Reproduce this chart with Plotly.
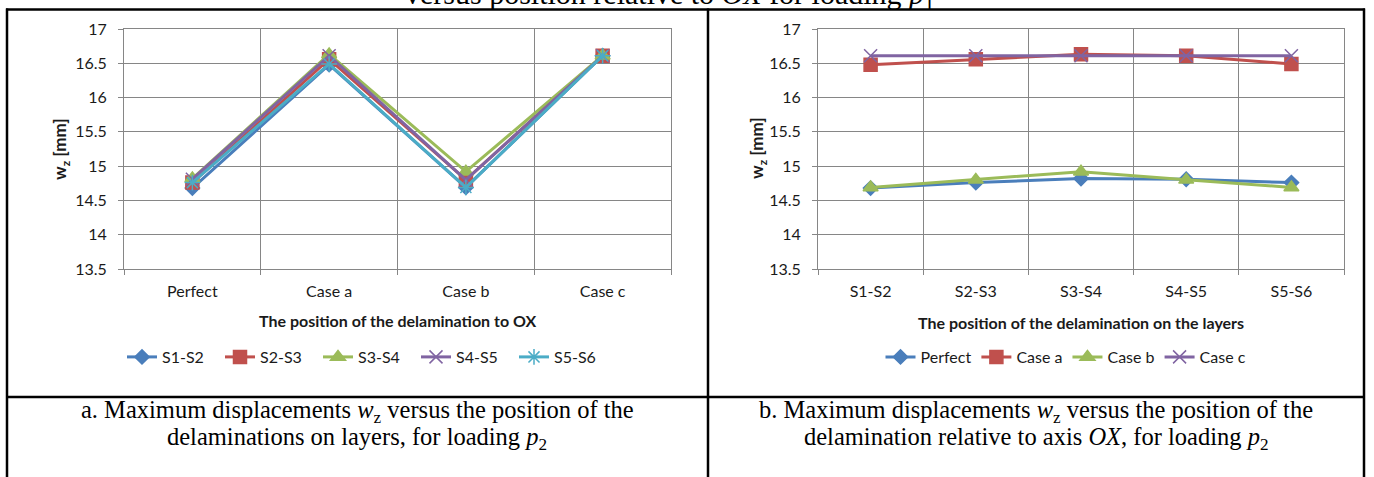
import plotly.graph_objects as go

# ---------------- data ----------------
cases = ["Perfect", "Case a", "Case b", "Case c"]
layers = ["S1-S2", "S2-S3", "S3-S4", "S4-S5", "S5-S6"]

# w_z [mm] for each case, across delamination layers
perfect = [14.68, 14.76, 14.82, 14.81, 14.76]
case_a = [16.48, 16.56, 16.63, 16.61, 16.49]
case_b = [14.69, 14.80, 14.92, 14.80, 14.69]
case_c = [16.61, 16.61, 16.61, 16.61, 16.61]

case_values = [perfect, case_a, case_b, case_c]

y_ticks = [13.5, 14, 14.5, 15, 15.5, 16, 16.5, 17]

# ---------------- styling ----------------
W, H = 1374, 477
def fx(px):
    return px / W
def fy(py):
    return 1 - py / H

colors = ["#4A7EBB", "#C0504D", "#9BBB59", "#8064A2", "#4BACC6"]
symbols = ["diamond", "square", "triangle-up", "x-thin-open", "asterisk-open"]
msizes = [11, 13, 13, 13, 13]
FONT = "Lato"
SERIF = "Liberation Serif"
GRID = "#868686"
TXT = "#1a1a1a"

fig = go.Figure()

# left chart: series = layers, x = cases
for i, lay in enumerate(layers):
    vals = [cv[i] for cv in case_values]
    fig.add_trace(go.Scatter(
        x=cases, y=vals, name=lay, mode="lines+markers",
        line=dict(color=colors[i], width=3),
        marker=dict(symbol=symbols[i], size=msizes[i], color=colors[i],
                    line=dict(color=colors[i], width=1.5)),
        xaxis="x", yaxis="y", legend="legend",
    ))

# right chart: series = cases, x = layers
for j, cname in enumerate(cases):
    fig.add_trace(go.Scatter(
        x=layers, y=case_values[j], name=cname, mode="lines+markers",
        line=dict(color=colors[j], width=3),
        marker=dict(symbol=symbols[j], size=msizes[j], color=colors[j],
                    line=dict(color=colors[j], width=1.5)),
        xaxis="x2", yaxis="y2", legend="legend2",
    ))

xcommon = dict(
    type="category", tickson="boundaries", showgrid=True, gridcolor=GRID, gridwidth=1,
    showline=True, linecolor=GRID, linewidth=1, mirror=True,
    ticks="outside", ticklen=5, tickcolor=GRID,
    tickfont=dict(family=FONT, size=16, color=TXT),
    ticklabelstandoff=8, zeroline=False, automargin=False,
)
ycommon = dict(
    range=[13.5, 17], tickmode="array", tickvals=y_ticks,
    ticktext=[("%g" % v) for v in y_ticks],
    showgrid=True, gridcolor=GRID, gridwidth=1,
    showline=True, linecolor=GRID, linewidth=1, mirror=True,
    ticks="outside", ticklen=5, tickcolor=GRID,
    tickfont=dict(family=FONT, size=16, color=TXT),
    ticklabelstandoff=8, zeroline=False, automargin=False,
    domain=[fy(269), fy(29)],
)

fig.update_layout(
    width=W, height=H,
    margin=dict(l=0, r=0, t=0, b=0, pad=0, autoexpand=False),
    paper_bgcolor="white", plot_bgcolor="white",
    font=dict(family=FONT, size=16, color=TXT),
    xaxis=dict(xcommon, domain=[fx(124), fx(671)], anchor="y", range=[-0.5, 3.5]),
    yaxis=dict(ycommon, anchor="x"),
    xaxis2=dict(xcommon, domain=[fx(818), fx(1344)], anchor="y2", range=[-0.5, 4.5]),
    yaxis2=dict(ycommon, anchor="x2"),
    legend=dict(orientation="h", x=fx(367), xanchor="center", y=fy(357), yanchor="middle",
                font=dict(family=FONT, size=16, color=TXT),
                entrywidth=53, entrywidthmode="pixels", bgcolor="rgba(0,0,0,0)"),
    legend2=dict(orientation="h", x=fx(1066), xanchor="center", y=fy(357), yanchor="middle",
                 font=dict(family=FONT, size=16, color=TXT), bgcolor="rgba(0,0,0,0)"),
    showlegend=True,
)

ann = []
# axis titles
ann.append(dict(text="<b>w<sub>z</sub> [mm]</b>", x=fx(61), y=fy(149), textangle=-90,
                font=dict(family=FONT, size=17, color=TXT)))
ann.append(dict(text="<b>w<sub>z</sub> [mm]</b>", x=fx(758), y=fy(149), textangle=-90,
                font=dict(family=FONT, size=17, color=TXT)))
ann.append(dict(text="<b>The position of the delamination to OX</b>", x=fx(397), y=fy(320),
                font=dict(family=FONT, size=16, color=TXT)))
ann.append(dict(text="<b>The position of the delamination on the layers</b>", x=fx(1081), y=fy(322),
                font=dict(family=FONT, size=16, color=TXT)))
# captions
cap = dict(family=SERIF, size=24.5, color="black")
ann.append(dict(text="a. Maximum displacements <i>w</i><sub>z</sub> versus the position of the",
                x=fx(357), y=fy(429), yanchor="bottom", font=cap))
ann.append(dict(text="delaminations on layers, for loading <i>p</i><sub>2</sub>",
                x=fx(357), y=fy(456), yanchor="bottom", font=cap))
ann.append(dict(text="b. Maximum displacements <i>w</i><sub>z</sub> versus the position of the",
                x=fx(1036), y=fy(429), yanchor="bottom", font=cap))
ann.append(dict(text="delamination relative to axis <i>OX</i>, for loading <i>p</i><sub>2</sub>",
                x=fx(1036), y=fy(456), yanchor="bottom", font=cap))
# cut-off text from the row above
ann.append(dict(text="versus position relative to <i>OX</i> for loading <i>p</i><sub>1</sub>",
                x=fx(403), xanchor="left", y=fy(17), yanchor="bottom",
                font=dict(family=SERIF, size=30, color="black")))

for a in ann:
    a.setdefault("xref", "paper")
    a.setdefault("yref", "paper")
    a.setdefault("showarrow", False)
    a.setdefault("xanchor", "center")
    a.setdefault("yanchor", "middle")
fig.update_layout(annotations=ann)

# table frame lines
def hline(y, x0, x1, w=2.5):
    return dict(type="line", xref="paper", yref="paper", x0=fx(x0), x1=fx(x1), y0=fy(y), y1=fy(y),
                line=dict(color="black", width=w))
def vline(x, y0, y1, w=2.5):
    return dict(type="line", xref="paper", yref="paper", x0=fx(x), x1=fx(x), y0=fy(y0), y1=fy(y1),
                line=dict(color="black", width=w))

fig.update_layout(shapes=[
    hline(9.5, 6, 1365),
    hline(397, 6, 1365),
    vline(7, 8.5, 477),
    vline(708, 8.5, 477),
    vline(1364, 8.5, 477),
])

fig.write_html("out.html")
